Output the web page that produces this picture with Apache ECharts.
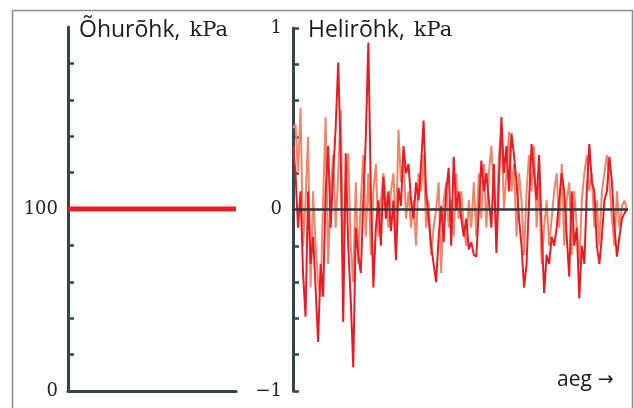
<!DOCTYPE html>
<html><head><meta charset="utf-8">
<script src="https://cdn.jsdelivr.net/npm/echarts@6/dist/echarts.min.js"></script>
<style>html,body{margin:0;padding:0;background:#fff}#c{width:634px;height:408px}</style>
</head><body><div id="c"></div>
<script>
// Left panel: air pressure (constant)
const airX = [0, 1];
const airValues = [100, 100];
const airTicks = [20, 40, 60, 80, 100, 120, 140, 160, 180];
const airLabels = [0, 100];
// Right panel: sound pressure (two overlapping traces)
const soundRed = [0.35,0.2,-0.1,0.1,-0.35,-0.59,0.1,-0.3,-0.15,-0.43,-0.73,-0.3,-0.48,0.1,0.35,-0.1,0.2,0.45,0.81,0.3,-0.62,0.31,-0.2,-0.5,-0.87,-0.1,-0.25,-0.35,0.05,0.4,0.92,0.1,-0.43,-0.1,0.05,-0.2,0.18,-0.05,0.1,-0.12,0.05,-0.28,0.12,0.02,0.35,0.2,0.25,0.05,-0.05,0.15,0.05,0.25,0.49,0.1,-0.05,-0.2,-0.3,-0.4,-0.15,0.02,-0.18,0.1,0.23,-0.2,0.29,0.0,0.1,-0.05,-0.15,-0.05,-0.22,-0.18,-0.25,-0.26,0.0,0.27,0.1,0.2,0.05,-0.1,0.25,-0.24,0.15,0.51,0.2,0.35,0.1,0.42,0.3,0.15,-0.05,-0.2,-0.43,-0.3,0.05,0.36,0.2,0.05,0.3,-0.1,-0.46,-0.25,-0.3,-0.15,-0.2,-0.1,0.05,0.2,0.1,-0.15,-0.37,0.1,-0.2,-0.1,-0.49,-0.2,-0.3,0.1,0.36,0.15,0.1,-0.2,-0.3,-0.15,0.05,0.1,0.29,0.15,-0.1,-0.26,-0.15,-0.05,-0.02,0.0];
const soundSalmon = [0.45,0.47,0.2,0.56,-0.2,0.05,0.4,-0.43,0.1,-0.2,-0.4,-0.48,0.05,0.51,-0.3,0.1,0.3,-0.1,0.2,0.55,-0.3,0.15,0.31,-0.2,-0.4,0.15,-0.3,0.05,0.3,-0.15,0.2,-0.25,0.1,0.25,-0.15,0.05,0.2,0.05,-0.1,0.1,0.2,-0.15,0.44,0.15,0.3,-0.05,0.1,-0.1,0.05,-0.2,0.2,0.1,0.3,-0.1,0.05,-0.25,-0.1,0.0,0.15,-0.35,0.05,0.15,-0.1,0.05,-0.15,0.2,-0.05,0.1,-0.1,-0.2,0.05,-0.1,0.15,-0.15,0.2,-0.05,0.25,-0.1,0.2,0.35,0.1,-0.15,0.3,0.45,0.0,0.2,0.43,0.1,0.25,-0.15,0.2,0.05,-0.25,0.1,0.3,0.1,0.35,-0.1,0.15,-0.3,-0.1,0.05,-0.2,-0.05,0.1,0.2,-0.1,0.25,-0.2,0.05,0.15,-0.25,0.1,-0.1,-0.3,0.05,0.2,0.3,0.1,0.2,-0.1,0.05,-0.2,0.1,0.2,0.3,0.15,-0.05,-0.2,0.1,-0.1,0.02,0.05,0.0];
const soundTicks = [-1, -0.8, -0.6, -0.4, -0.2, 0.2, 0.4, 0.6, 0.8, 1];
const soundLabels = ['−1', '0', '1'];
const titles = ['Õhurõhk,', 'Helirõhk,', 'kPa'];
const timeLabel = ['aeg', '→'];

const AX = '#35444d';
const RED = '#e81c24';
const SALMON = '#f2846a';
const SERIF = '"DejaVu Serif", serif';
const SANS = '"Open Sans", sans-serif';

const idx = soundRed.map((_, i) => i);
const titleRich = {
  s: {fontFamily: SANS, fontSize: 23, fill: '#1a1a1a'},
  m: {fontFamily: SERIF, fontSize: 21, fill: '#1a1a1a', padding: [0, 0, 0, 9]}
};
const chart = echarts.init(document.getElementById('c'), null, {renderer: 'canvas'});
chart.setOption({
  animation: false,
  backgroundColor: '#fff',
  grid: [
    {left: 68, top: 27, width: 168, height: 364},
    {left: 293, top: 28, width: 334, height: 363}
  ],
  xAxis: [
    {gridIndex: 0, type: 'value', min: 0, max: 1, axisLine: {onZero: false, lineStyle: {color: AX, width: 3}},
     axisTick: {show: false}, axisLabel: {show: false}, splitLine: {show: false}},
    {gridIndex: 1, type: 'value', min: 0, max: soundRed.length - 1, z: 5,
     axisLine: {onZero: true, lineStyle: {color: '#2a363c', width: 2.5}},
     axisTick: {show: false}, axisLabel: {show: false}, splitLine: {show: false}}
  ],
  yAxis: [
    {gridIndex: 0, type: 'value', min: 0, max: 200, interval: 20,
     axisLine: {show: true, lineStyle: {color: AX, width: 3}},
     axisTick: {show: true, inside: true, length: 6, customValues: airTicks, lineStyle: {color: AX, width: 2.5}},
     axisLabel: {customValues: airLabels, margin: 10, color: '#222', fontFamily: SERIF, fontSize: 18,
       formatter: v => (v === 0 || v === 100) ? String(v) : ''},
     splitLine: {show: false}},
    {gridIndex: 1, type: 'value', min: -1, max: 1, interval: 0.2,
     axisLine: {show: true, onZero: false, lineStyle: {color: AX, width: 3}},
     axisTick: {show: true, inside: true, length: 6, customValues: soundTicks, lineStyle: {color: AX, width: 2.5}},
     axisLabel: {customValues: [-1, 0, 1], margin: 11, color: '#222', fontFamily: SERIF, fontSize: 18,
       formatter: v => Math.abs(v - 1) < 1e-6 ? soundLabels[2] : (Math.abs(v) < 1e-6 ? soundLabels[1] : (Math.abs(v + 1) < 1e-6 ? soundLabels[0] : ''))},
     splitLine: {show: false}}
  ],
  series: [
    {type: 'line', xAxisIndex: 0, yAxisIndex: 0, data: airX.map((x, i) => [x, airValues[i]]),
     symbol: 'none', lineStyle: {color: RED, width: 5}, z: 3},
    {type: 'line', xAxisIndex: 1, yAxisIndex: 1, data: idx.map(i => [i, soundSalmon[i]]),
     symbol: 'none', lineStyle: {color: SALMON, width: 2}, z: 2},
    {type: 'line', xAxisIndex: 1, yAxisIndex: 1, data: idx.map(i => [i, soundRed[i]]),
     symbol: 'none', lineStyle: {color: RED, width: 2}, z: 3}
  ],
  graphic: [
    {type: 'rect', left: 10, top: 8, silent: true, z: 0,
     shape: {width: 620, height: 420}, style: {fill: 'none', stroke: '#8c8c8c', lineWidth: 1.5}},
    {type: 'text', left: 79, top: 19, z: 10,
     style: {text: '{s|' + titles[0] + '}{m|' + titles[2] + '}', rich: titleRich}},
    {type: 'text', left: 308, top: 19, z: 10,
     style: {text: '{s|' + titles[1] + '}{m|' + titles[2] + '}', rich: titleRich}},
    {type: 'text', left: 557, top: 370, z: 10,
     style: {text: '{a|' + timeLabel[0] + '}{b|' + timeLabel[1] + '}',
       rich: {a: {fontFamily: SANS, fontSize: 21, fill: '#1a1a1a'}, b: {fontFamily: '"DejaVu Sans", sans-serif', fontSize: 19, fill: '#1a1a1a', padding: [0, 0, 0, 6]}}}}
  ]
});
</script>
</body></html>
